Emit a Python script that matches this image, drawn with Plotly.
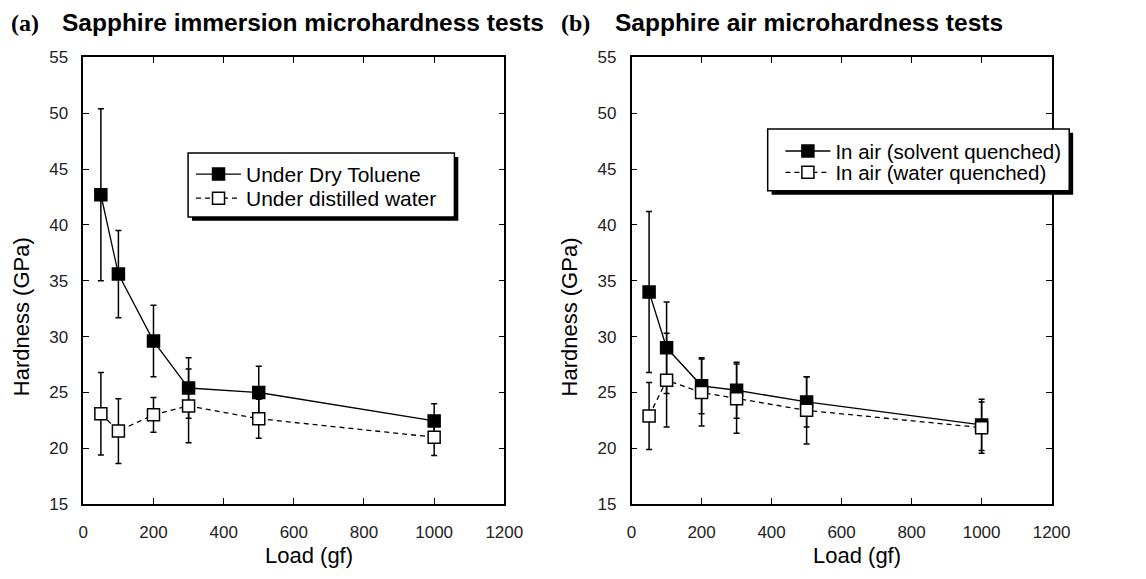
import plotly.graph_objects as go

W, H = 1146, 579

loads = [50, 100, 200, 300, 500, 1000]

# (a) immersion
toluene = [42.7, 35.6, 29.6, 25.4, 25.0, 22.45]
toluene_err = [7.7, 3.9, 3.2, 2.7, 2.35, 1.55]
water_a = [23.1, 21.55, 23.0, 23.8, 22.65, 21.0]
water_a_err = [3.7, 2.9, 1.55, 3.3, 1.75, 1.65]

# (b) air
solvent = [34.0, 29.0, 25.6, 25.2, 24.15, 22.1]
solvent_err = [7.2, 4.1, 2.5, 2.5, 2.25, 2.3]
water_b = [22.9, 26.1, 25.0, 24.45, 23.4, 21.85]
water_b_err = [3.0, 4.2, 3.0, 3.1, 3.0, 2.3]

x_ticks = [0, 200, 400, 600, 800, 1000, 1200]
y_ticks = [15, 20, 25, 30, 35, 40, 45, 50, 55]

FONT = "Liberation Sans, Arial, sans-serif"
SERIF = "Liberation Serif, Times New Roman, serif"


def px_x(p):
    return p / W


def px_y(p):
    return 1 - p / H


fig = go.Figure()


def add_series(name, y, err, filled, dash, xa, ya, legend):
    fig.add_trace(go.Scatter(
        x=loads, y=y, name=name, mode="lines+markers",
        xaxis=xa, yaxis=ya, legend=legend,
        line=dict(color="black", width=1.3, dash=dash),
        marker=dict(symbol="square", size=12,
                    color="black" if filled else "white",
                    line=dict(color="black", width=1.5)),
        error_y=dict(type="data", array=err, visible=True,
                     color="black", thickness=1.5, width=3),
    ))


DASH = "5px,4px"
add_series("Under Dry Toluene", toluene, toluene_err, True, "solid", "x", "y", "legend")
add_series("Under distilled water", water_a, water_a_err, False, DASH, "x", "y", "legend2")
add_series("In air (solvent quenched)", solvent, solvent_err, True, "solid", "x2", "y2", "legend3")
add_series("In air (water quenched)", water_b, water_b_err, False, DASH, "x2", "y2", "legend4")

axis_common = dict(
    showline=True, linecolor="black", linewidth=1.5, mirror="allticks",
    ticks="inside", ticklen=6, tickwidth=1.2, tickcolor="black",
    showgrid=False, zeroline=False,
    tickfont=dict(family=FONT, size=17, color="#222"),
)

xdom1 = [px_x(80), px_x(510)]
xdom2 = [px_x(640), px_x(1069)]
ydom = [px_y(512), px_y(50)]


def legend_at(x, y, size):
    return dict(x=px_x(x), y=px_y(y), xanchor="left", yanchor="middle",
                bgcolor="rgba(0,0,0,0)", borderwidth=0,
                font=dict(family=FONT, size=size), tracegroupgap=0, itemwidth=45)


fig.update_layout(
    width=W, height=H,
    margin=dict(l=0, r=0, t=0, b=0),
    paper_bgcolor="white", plot_bgcolor="white",
    font=dict(family=FONT, color="black"),
    xaxis=dict(domain=xdom1, range=[0, 1200], tickvals=x_ticks, anchor="y",
               ticklabelstandoff=12, **axis_common),
    yaxis=dict(domain=ydom, range=[15, 55], tickvals=y_ticks, anchor="x",
               ticklabelstandoff=10, **axis_common),
    xaxis2=dict(domain=xdom2, range=[0, 1200], tickvals=x_ticks, anchor="y2",
                ticklabelstandoff=12, **axis_common),
    yaxis2=dict(domain=ydom, range=[15, 55], tickvals=y_ticks, anchor="x2",
                ticklabelstandoff=10, **axis_common),
    legend=legend_at(190, 171, 21),
    legend2=legend_at(190, 196, 21),
    legend3=legend_at(792, 147, 20.5),
    legend4=legend_at(792, 169, 20.5),
    showlegend=True,
)

# legend boxes with drop shadows
for (x0, y0, x1, y1) in [(187, 149, 459, 215), (779, 124, 1087, 188)]:
    fig.add_shape(type="rect", xref="paper", yref="paper",
                  x0=px_x(x0 + 4), x1=px_x(x1 + 4), y0=px_y(y1 + 4), y1=px_y(y0 + 4),
                  fillcolor="black", line=dict(width=0), layer="above")
    fig.add_shape(type="rect", xref="paper", yref="paper",
                  x0=px_x(x0), x1=px_x(x1), y0=px_y(y1), y1=px_y(y0),
                  fillcolor="white", line=dict(color="black", width=1.5), layer="above")

# titles
TS = 24.5
fig.add_annotation(x=px_x(4), y=px_y(14), xref="paper", yref="paper", text="<b>(a)</b>",
                   showarrow=False, xanchor="left", yanchor="middle",
                   font=dict(family=SERIF, size=24))
fig.add_annotation(x=px_x(56), y=px_y(14), xref="paper", yref="paper",
                   text="<b>Sapphire immersion microhardness tests</b>",
                   showarrow=False, xanchor="left", yanchor="middle",
                   font=dict(family=FONT, size=TS))
fig.add_annotation(x=px_x(566), y=px_y(14), xref="paper", yref="paper", text="<b>(b)</b>",
                   showarrow=False, xanchor="left", yanchor="middle",
                   font=dict(family=SERIF, size=24))
fig.add_annotation(x=px_x(621), y=px_y(14), xref="paper", yref="paper",
                   text="<b>Sapphire air microhardness tests</b>",
                   showarrow=False, xanchor="left", yanchor="middle",
                   font=dict(family=FONT, size=TS))

# axis titles
for cx in (310, 870):
    fig.add_annotation(x=px_x(cx), y=px_y(565), xref="paper", yref="paper",
                       text="Load (gf)", showarrow=False, xanchor="center", yanchor="middle",
                       font=dict(family=FONT, size=22))
for cx in (17, 577):
    fig.add_annotation(x=px_x(cx), y=px_y(318), xref="paper", yref="paper",
                       text="Hardness (GPa)", textangle=-90, showarrow=False,
                       xanchor="center", yanchor="middle",
                       font=dict(family=FONT, size=22))

fig.write_html("out.html")
